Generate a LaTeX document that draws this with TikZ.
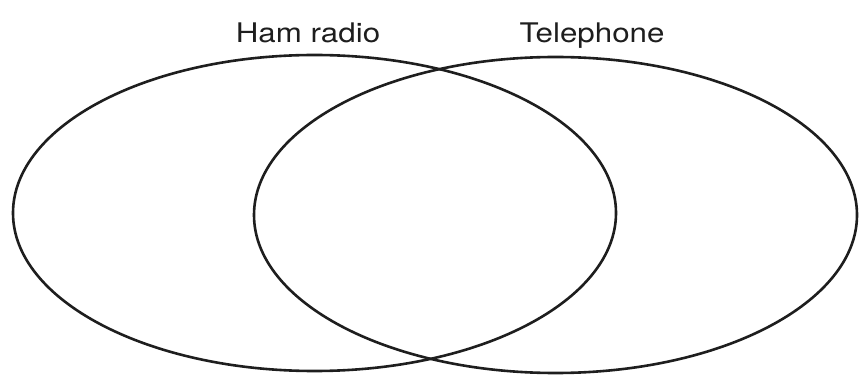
\documentclass[tikz,border=0pt]{standalone}
\usepackage{fontspec}
\setmainfont{TeX Gyre Heros}
\usepackage{xcolor}
\usepackage{tikz}
\usetikzlibrary{positioning}

\definecolor{inkgray}{HTML}{1E1E1E}

\begin{document}
\begin{tikzpicture}[x=1pt,y=1pt,
    setline/.style={inkgray,line width=2.6pt},
    setlabel/.style={inkgray,anchor=base,xscale=1.16,inner sep=0pt,
      font=\fontsize{27}{32}\selectfont}]
  \useasboundingbox (0,0) rectangle (862,375);
  % centres of the two sets
  \coordinate (hamc) at (314.5,162);
  \coordinate (telc) at (555.5,160);
  % the two sets
  \draw[setline] (hamc) ellipse [x radius=301.5, y radius=158];
  \draw[setline] (telc) ellipse [x radius=301.5, y radius=158];
  % labels
  \node[setlabel] (hamlabel) at (308,332) {Ham radio};
  \node[setlabel] (tellabel) at (592,332.5) {Telephone};
\end{tikzpicture}
\end{document}
